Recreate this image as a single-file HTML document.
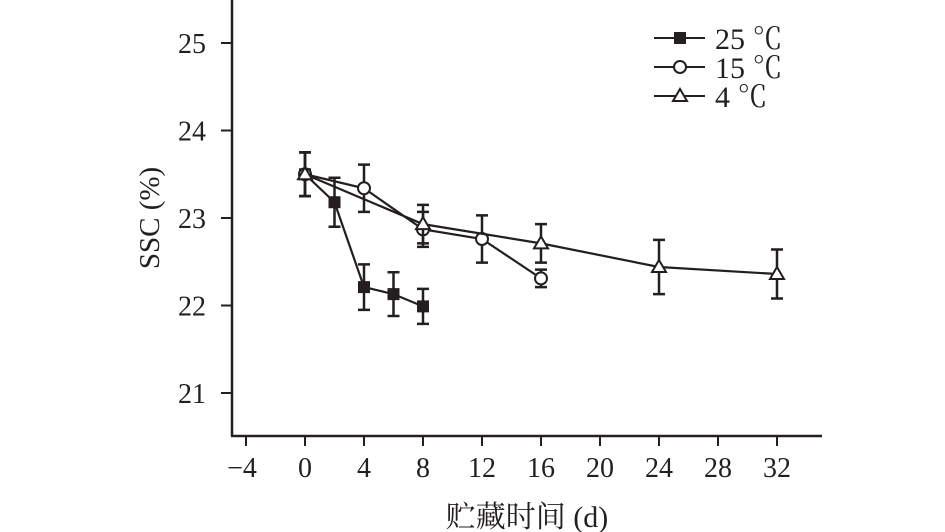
<!DOCTYPE html>
<html><head><meta charset="utf-8"><style>
body{margin:0;background:#fff;}
svg{display:block;font-family:"Liberation Serif","Noto Serif CJK SC",serif;}
</style></head><body>
<svg id="chart" width="945" height="532" viewBox="0 0 945 532">
<g id="axes"></g>
<g id="marks"></g>
<g id="legend"></g>
</svg>
<script>
const xTicks=[-4,0,4,8,12,16,20,24,28,32];
const yTicks=[21,22,23,24,25];
const days25=[0,2,4,6,8];
const ssc25=[23.5,23.18,22.21,22.13,21.99];
const err25=[0.25,0.28,0.26,0.25,0.2];
const days15=[0,4,8,12,16];
const ssc15=[23.5,23.34,22.87,22.76,22.31];
const err15=[0.25,0.27,0.2,0.27,0.1];
const days4=[0,8,16,24,32];
const ssc4=[23.5,22.93,22.71,22.44,22.36];
const err4=[0.25,0.22,0.22,0.31,0.28];
const NS='http://www.w3.org/2000/svg';
const X=v=>305+v*14.75;
const Y=v=>218-(v-23)*87.5;
function mk(tag,attrs,parent,text){const e=document.createElementNS(NS,tag);for(const k in attrs)e.setAttribute(k,attrs[k]);if(text!==undefined)e.textContent=text;parent.appendChild(e);return e;}
const ax=document.getElementById('axes');
const yl=mk('line',{x1:232,y1:0,x2:232,y2:436,stroke:'#231f20','stroke-width':2.5},ax);


const xl=mk('line',{x1:231,y1:436,x2:822,y2:436,stroke:'#231f20','stroke-width':2.5},ax);


xTicks.forEach(t=>{
 const l=mk('line',{x1:X(t),y1:436,x2:X(t),y2:446,stroke:'#231f20','stroke-width':2},ax);
 
 
 const s=mk('text',{x:X(t)+(t<0?-4:0),y:477,'text-anchor':'middle','font-size':28,fill:'#231f20'},ax,t<0?'\u2212'+(-t):String(t));
 
 
});
yTicks.forEach(t=>{
 const l=mk('line',{x1:221,y1:Y(t),x2:232,y2:Y(t),stroke:'#231f20','stroke-width':2},ax);
 
 
 const s=mk('text',{x:206,y:Y(t)+10,'text-anchor':'end','font-size':28,fill:'#231f20'},ax,String(t));
 
 
});
const xt=mk('text',{x:527,y:527,'text-anchor':'middle','font-size':30,fill:'#231f20'},ax,'贮藏时间 (d)');


const yt=mk('text',{x:0,y:0,'text-anchor':'middle','font-size':29,fill:'#231f20',transform:'translate(159,218) rotate(-90)'},ax,'SSC (%)');


const mg=document.getElementById('marks');
function marker(type,cx,cy,parent){
 let e;
 if(type==='sq') e=mk('rect',{x:cx-6,y:cy-6,width:12,height:12,fill:'#231f20'},parent);
 else if(type==='ci') e=mk('circle',{cx:cx,cy:cy,r:6,fill:'#fff',stroke:'#231f20','stroke-width':2},parent);
 else e=mk('polygon',{points:`${cx},${cy-7} ${cx+7},${cy+5} ${cx-7},${cy+5}`,fill:'#fff',stroke:'#231f20','stroke-width':2},parent);
 return e;
}
function series(name,days,vals,errs,type){
 const g=mk('g',{},mg);
 
 
 days.forEach((d,i)=>{
  const x=X(d),y1=Y(vals[i]+errs[i]),y2=Y(vals[i]-errs[i]);
  const eb=mk('path',{d:`M${x},${y1}V${y2}M${x-6},${y1}H${x+6}M${x-6},${y2}H${x+6}`,stroke:'#231f20','stroke-width':2.5,fill:'none'},g);
  
  
 });
 const ln=mk('polyline',{points:days.map((d,i)=>X(d)+','+Y(vals[i])).join(' '),fill:'none',stroke:'#231f20','stroke-width':2.2},g);
 
 
 days.forEach((d,i)=>{
  const m=marker(type,X(d),Y(vals[i]),g);
  
  
 });
}
series('25c',days25,ssc25,err25,'sq');
series('15c',days15,ssc15,err15,'ci');
series('4c',days4,ssc4,err4,'tr');
const lg=document.getElementById('legend');
[['25 ℃','sq',38],['15 ℃','ci',67],['4 ℃','tr',96]].forEach(([lab,type,y])=>{
 const g=mk('g',{},lg);
 
 
 mk('line',{x1:654,y1:y,x2:705,y2:y,stroke:'#231f20','stroke-width':2},g);
 marker(type,680,y,g);
 mk('text',{x:715,y:y+11,'font-size':30,fill:'#231f20'},g,lab);
});
</script>
</body></html>
